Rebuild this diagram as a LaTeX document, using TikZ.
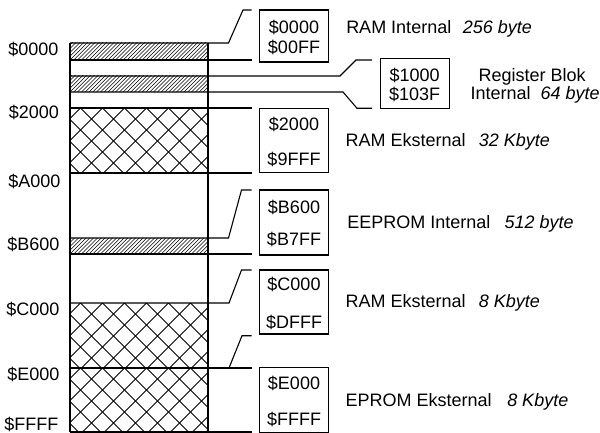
\documentclass[tikz,border=0pt]{standalone}
\usepackage{fontspec}
\setmainfont{Liberation Sans}
\begin{document}
\begin{tikzpicture}[x=1pt,y=-1pt,line width=1.1pt,
  every node/.style={font=\fontsize{18}{20}\selectfont,inner sep=0pt},
  addr/.style={anchor=base east},
  btxt/.style={anchor=base},
  lbl/.style={anchor=base west},
  sz/.style={anchor=base west,font=\fontsize{18}{20}\selectfont\itshape},
  hatchline/.style={line width=0.5pt},
  xline/.style={line width=0.8pt},
  boxr/.style={draw,line width=1.1pt}]
\useasboundingbox (0,0) rectangle (600,433);
% hatched bands
\foreach \ya/\yb in {43/60,76/92,238/254}{
  \begin{scope}
  \clip (70,\ya) rectangle (208,\yb);
  \foreach \k in {-8,...,40}{\draw[hatchline] (70+\k*3.8,\yb) -- ++(30,-30);}
  \end{scope}
}
% cross-hatched blocks
\foreach \ya/\yb in {108/173,303/368,368/432}{
  \begin{scope}
  \clip (70,\ya) rectangle (208,\yb);
  \foreach \k in {-7,...,11}{
    \draw[xline] (80.5+\k*22,\ya) -- ++(100,100);
    \draw[xline] (80.5+\k*22,\ya) -- ++(-100,100);}
  \end{scope}
}
% column
\draw (70,43) -- (70,432);
\draw (208,43) -- (208,432);
% leader coordinates
\coordinate (t0) at (70,43);
\coordinate (t1) at (70,60);
\coordinate (t2) at (70,76);
\coordinate (t3) at (70,92);
\coordinate (t4) at (70,108);
\coordinate (t5) at (70,173);
\coordinate (t6) at (70,238);
\coordinate (t7) at (70,254);
\coordinate (t8) at (70,303);
\coordinate (t9) at (70,368);
\coordinate (t10) at (70,432);
\draw (t0) -- (228.5,43) -- (243,10) -- (251.5,10);
\draw (t1) -- (251.5,60);
\draw (t2) -- (340,76) -- (356,60) -- (372,60);
\draw (t3) -- (343,92) -- (357,108.3) -- (372,108.3);
\draw (t4) -- (251.5,108);
\draw (t5) -- (251.5,173);
\draw (t6) -- (228.5,238) -- (241.5,190) -- (251.5,190);
\draw (t7) -- (251.5,254);
\draw (t8) -- (229,303) -- (241.5,270) -- (251.5,270);
\draw (t9) -- (251.5,368);
\draw (229,368) -- (242,335.7) -- (251.5,335.7);
\draw (t10) -- (251.5,432);
% boxes
\node[boxr,minimum width=69pt,minimum height=52pt] (b1) at (294,36) {};
\node[boxr,minimum width=69pt,minimum height=50pt] (b2) at (414.7,83.3) {};
\node[boxr,minimum width=69pt,minimum height=64.5pt] (b3) at (294,140.5) {};
\node[boxr,minimum width=69pt,minimum height=65pt] (b4) at (294,222.5) {};
\node[boxr,minimum width=69pt,minimum height=64pt] (b5) at (294,302) {};
\node[boxr,minimum width=69pt,minimum height=64.3pt] (b6) at (294,400) {};
% box texts
\node[btxt] (b1a) at (294,33.8) {\$0000};
\node[btxt] (b1b) at (294,54) {\$00FF};
\node[btxt] (b2a) at (414.7,82) {\$1000};
\node[btxt] (b2b) at (414.7,100.5) {\$103F};
\node[btxt] (b3a) at (294,130.5) {\$2000};
\node[btxt] (b3b) at (294,165.5) {\$9FFF};
\node[btxt] (b4a) at (294,213.8) {\$B600};
\node[btxt] (b4b) at (294,245.5) {\$B7FF};
\node[btxt] (b5a) at (294,290.5) {\$C000};
\node[btxt] (b5b) at (294,328.8) {\$DFFF};
\node[btxt] (b6a) at (294,389) {\$E000};
\node[btxt] (b6b) at (294,425.5) {\$FFFF};
% left addresses
\node[addr] (a0) at (59,55.5) {\$0000};
\node[addr] (a1) at (59.5,119) {\$2000};
\node[addr] (a2) at (61,187) {\$A000};
\node[addr] (a3) at (60,250.5) {\$B600};
\node[addr] (a4) at (60,315.5) {\$C000};
\node[addr] (a5) at (60,380.5) {\$E000};
\node[addr] (a6) at (59,430.5) {\$FFFF};
% descriptions
\node[lbl] (l1) at (345.7,33.3) {RAM Internal};
\node[sz] (s1) at (462.3,33.3) {256 byte};
\node[lbl] (l2a) at (478,81.5) {Register Blok};
\node[lbl] (l2b) at (470,100) {Internal};
\node[sz] (s2) at (540,100) {64 byte};
\node[lbl] (l3) at (345,146.7) {RAM Eksternal};
\node[sz] (s3) at (478.3,146.7) {32 Kbyte};
\node[lbl] (l4) at (346.7,228.3) {EEPROM Internal};
\node[sz] (s4) at (504,228.3) {512 byte};
\node[lbl] (l5) at (345,307.7) {RAM Eksternal};
\node[sz] (s5) at (478.3,307.7) {8 Kbyte};
\node[lbl] (l6) at (345,406) {EPROM Eksternal};
\node[sz] (s6) at (506.7,406) {8 Kbyte};
\end{tikzpicture}
\end{document}
